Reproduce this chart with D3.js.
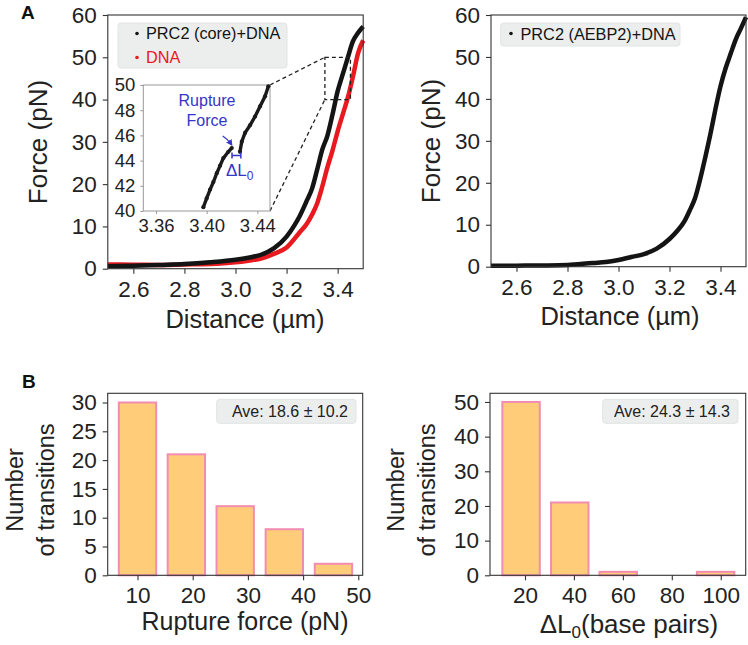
<!DOCTYPE html>
<html><head><meta charset="utf-8">
<script src="https://cdn.jsdelivr.net/npm/d3@7"></script>
<style>
body{margin:0;background:#fff;}
svg{display:block;font-family:"Liberation Sans",Arial,Helvetica,sans-serif;}
</style></head>
<body>
<svg id="chart" width="748" height="645"></svg>
<script>
// ---------- DATA ----------
const distCore   = [2.5,2.6,2.7,2.8,2.9,3.0,3.05,3.1,3.15,3.2,3.23,3.25,3.28,3.3,3.32,3.34,3.36,3.38,3.40,3.42,3.44,3.46,3.48,3.5];
const forceCore  = [0.6,0.7,0.9,1.1,1.5,2.1,2.6,3.3,4.8,7.6,10.2,12.3,16.2,19.0,23.5,28.2,31.5,36.5,42.0,46.0,50.0,53.8,55.8,57.3];
const distDNA    = [2.5,2.6,2.7,2.8,2.9,3.0,3.05,3.1,3.15,3.2,3.25,3.28,3.3,3.32,3.34,3.36,3.38,3.40,3.42,3.44,3.46,3.48,3.5];
const forceDNA   = [1.0,0.95,0.9,1.0,1.1,1.5,1.9,2.4,3.5,5.0,8.5,10.7,12.8,15.5,19.5,24.0,28.0,32.5,36.5,40.5,45.5,51.0,54.0];
const distAEBP2  = [2.5,2.6,2.7,2.8,2.9,2.95,3.0,3.05,3.1,3.15,3.2,3.23,3.26,3.28,3.3,3.32,3.34,3.36,3.38,3.40,3.42,3.44,3.46,3.48,3.5];
const forceAEBP2 = [0.2,0.25,0.3,0.4,0.9,1.1,1.6,2.3,3.0,4.3,6.6,8.5,11.0,13.5,16.3,20.8,26.0,31.5,37.5,43.0,47.3,50.8,54.2,56.8,59.5];
// inset (zoomed rupture event)
const insetDistA  = [3.3974,3.400,3.4027,3.4053,3.408,3.4106,3.4132,3.4171,3.4198];
const insetForceA = [40.3,41.0,41.7,42.3,43.0,43.6,44.2,44.7,45.0];
const insetDistB  = [3.4263,3.4277,3.4303,3.4342,3.4382,3.4421,3.4461,3.4487];
const insetForceB = [44.7,45.5,46.2,46.8,47.5,48.3,49.1,49.9];
const ruptureMark = [3.4198,45.0];
const deltaL0Mark = [3.4200,3.4270,44.4];

const distTicks   = [2.6,2.8,3.0,3.2,3.4];
const forceTicks  = [0,10,20,30,40,50,60];
const insetXTicks = [3.36,3.40,3.44];
const insetYTicks = [40,42,44,46,48,50];

const ruptureCenters = [10,18.85,27.7,36.6,45.5];
const ruptureCounts  = [30,21,12,8,2];
const ruptureTicksX  = [10,20,30,40,50];
const ruptureTicksY  = [0,5,10,15,20,25,30];
const dL0Centers = [18.4,38.3,58.1,78.0,97.9];
const dL0Counts  = [50,21,1,0,1];
const dL0TicksX  = [20,40,60,80,100];
const dL0TicksY  = [0,10,20,30,40,50];

const legendCore  = ["PRC2 (core)+DNA","DNA"];
const legendAEBP2 = ["PRC2 (AEBP2)+DNA"];
const aveRupture = "Ave: 18.6 \u00b1 10.2";
const aveDL0     = "Ave: 24.3 \u00b1 14.3";

// ---------- DRAW ----------
const svg = d3.select("#chart");
const TICKFS = 22.5, TITLEFS = 25.5, AXC = "#333";

function frame(g, x0, x1, y0, y1){
  g.append("rect").attr("x",x0).attr("y",y1).attr("width",x1-x0).attr("height",y0-y1)
   .attr("fill","none").attr("stroke",AXC).attr("stroke-width",1.1);
}
function axes(g, x, y, xt, yt, xfmt, yfmt, y0, x0){
  const ax = g.append("g").attr("transform",`translate(0,${y0})`)
    .call(d3.axisBottom(x).tickValues(xt).tickFormat(xfmt).tickSize(5).tickSizeOuter(0).tickPadding(7));
  const ay = g.append("g").attr("transform",`translate(${x0},0)`)
    .call(d3.axisLeft(y).tickValues(yt).tickFormat(yfmt).tickSize(5).tickSizeOuter(0).tickPadding(6));
  [ax,ay].forEach(a=>{
    a.select(".domain").remove();
    a.selectAll("line").attr("stroke",AXC).attr("stroke-width",1.1);
    a.selectAll("text").attr("font-size",TICKFS).attr("fill","#222").attr("font-family",null);
  });
}

// ---- Panel A left ----
(function(){
  const g = svg.append("g");
  const x = d3.scaleLinear().domain([2.5,3.5]).range([107.8,363.2]);
  const y = d3.scaleLinear().domain([0,60]).range([268.7,15]);
  const line = d3.line().x(d=>x(d[0])).y(d=>y(d[1])).curve(d3.curveMonotoneX);
  g.append("path").datum(d3.zip(distDNA,forceDNA)).attr("d",line)
    .attr("fill","none").attr("stroke","#e8191f").attr("stroke-width",4.5);
  g.append("path").datum(d3.zip(distCore,forceCore)).attr("d",line)
    .attr("fill","none").attr("stroke","#141414").attr("stroke-width",4.5);
  frame(g,107.8,363.2,268.7,15);
  axes(g,x,y,distTicks,forceTicks,d3.format(".1f"),d3.format("d"),268.7,107.8);
  // legend
  g.append("rect").attr("x",118).attr("y",23).attr("width",169).attr("height",45).attr("rx",3)
    .attr("fill","#eceeee").attr("stroke","#e2e4e4");
  const lc = ["#141414","#e8191f"];
  legendCore.forEach((t,i)=>{
    g.append("circle").attr("cx",137).attr("cy",33.5+i*24).attr("r",1.8).attr("fill",lc[i]);
    g.append("text").attr("x",146).attr("y",39+i*24).attr("font-size",16.3).attr("fill",lc[i]).text(t);
  });
  // zoom rectangle
  const zx0 = x(3.35), zx1 = x(3.45), zy0 = y(40), zy1 = y(50);
  g.append("rect").attr("x",zx0).attr("y",zy1).attr("width",zx1-zx0).attr("height",zy0-zy1)
    .attr("fill","none").attr("stroke","#222").attr("stroke-width",1.3).attr("stroke-dasharray","4,3");
  // inset
  const ix = d3.scaleLinear().domain([3.35,3.45]).range([143.3,270]);
  const iy = d3.scaleLinear().domain([40,50]).range([211,85]);
  g.append("line").attr("x1",270).attr("y1",85).attr("x2",zx0).attr("y2",zy1)
    .attr("stroke","#222").attr("stroke-width",1.3).attr("stroke-dasharray","4,3");
  g.append("line").attr("x1",270).attr("y1",211).attr("x2",zx0).attr("y2",zy0)
    .attr("stroke","#222").attr("stroke-width",1.3).attr("stroke-dasharray","4,3");
  g.append("rect").attr("x",143.3).attr("y",85).attr("width",126.7).attr("height",126)
    .attr("fill","#fff").attr("stroke","#999").attr("stroke-width",1);
  const il = d3.line().x(d=>ix(d[0])).y(d=>iy(d[1]));
  [d3.zip(insetDistA,insetForceA), d3.zip(insetDistB,insetForceB)].forEach(seg=>{
    g.append("path").datum(seg).attr("d",il).attr("fill","none").attr("stroke","#1a1a1a").attr("stroke-width",3.4);
    g.selectAll(null).data(seg).enter().append("circle")
      .attr("cx",d=>ix(d[0])).attr("cy",d=>iy(d[1])).attr("r",2.1).attr("fill","#1a1a1a");
  });
  const iax = g.append("g").attr("transform","translate(0,211)")
    .call(d3.axisBottom(ix).tickValues(insetXTicks).tickFormat(d3.format(".2f")).tickSize(3).tickSizeOuter(0).tickPadding(5));
  const iay = g.append("g").attr("transform","translate(143.3,0)")
    .call(d3.axisLeft(iy).tickValues(insetYTicks).tickFormat(d3.format("d")).tickSize(3).tickSizeOuter(0).tickPadding(5));
  [iax,iay].forEach(a=>{
    a.select(".domain").remove();
    a.selectAll("line").attr("stroke","#999");
    a.selectAll("text").attr("font-size",18.5).attr("fill","#222").attr("font-family",null);
  });
  // annotations
  const blue = "#3535c8";
  g.append("text").attr("x",207).attr("y",106).attr("text-anchor","middle").attr("font-size",16).attr("fill",blue).text("Rupture");
  g.append("text").attr("x",207).attr("y",126).attr("text-anchor","middle").attr("font-size",16).attr("fill",blue).text("Force");
  svg.append("defs").append("marker").attr("id","ah").attr("viewBox","0 0 10 10").attr("refX",8).attr("refY",5)
    .attr("markerWidth",5).attr("markerHeight",5).attr("orient","auto")
    .append("path").attr("d","M0,0L10,5L0,10z").attr("fill",blue);
  const rx = ix(ruptureMark[0]), ry = iy(ruptureMark[1]);
  g.append("path").attr("d",`M${rx-9},${ry-12}Q${rx-4},${ry-9} ${rx},${ry-3}`)
    .attr("fill","none").attr("stroke",blue).attr("stroke-width",1.3).attr("marker-end","url(#ah)");
  const dx0 = ix(deltaL0Mark[0]), dx1 = ix(deltaL0Mark[1]), dy = iy(deltaL0Mark[2]);
  g.append("path").attr("d",`M${dx0},${dy}H${dx1}M${dx0},${dy-3}V${dy+3}M${dx1},${dy-3}V${dy+3}`)
    .attr("stroke",blue).attr("stroke-width",1.5).attr("fill","none");
  const dt = g.append("text").attr("x",226).attr("y",176).attr("font-size",17).attr("fill",blue);
  dt.append("tspan").text("\u0394L");
  dt.append("tspan").attr("font-size",12).attr("dy",4).text("0");
  // titles
  g.append("text").attr("x",245).attr("y",328).attr("text-anchor","middle").attr("font-size",TITLEFS).attr("fill","#222").text("Distance (\u00b5m)");
  g.append("text").attr("transform","translate(47,142) rotate(-90)").attr("text-anchor","middle").attr("font-size",TITLEFS+0.5).attr("fill","#222").text("Force (pN)");
  svg.append("text").attr("x",21).attr("y",19).attr("font-size",19).attr("font-weight","bold").attr("fill","#111").text("A");
})();

// ---- Panel A right ----
(function(){
  const g = svg.append("g");
  const x = d3.scaleLinear().domain([2.5,3.5]).range([491,746]);
  const y = d3.scaleLinear().domain([0,60]).range([266.7,15]);
  const line = d3.line().x(d=>x(d[0])).y(d=>y(d[1])).curve(d3.curveMonotoneX);
  g.append("path").datum(d3.zip(distAEBP2,forceAEBP2)).attr("d",line)
    .attr("fill","none").attr("stroke","#141414").attr("stroke-width",4.5);
  frame(g,491,746,266.7,15);
  axes(g,x,y,distTicks,forceTicks,d3.format(".1f"),d3.format("d"),266.7,491);
  g.append("rect").attr("x",500.7).attr("y",23).attr("width",179.3).attr("height",23).attr("rx",3)
    .attr("fill","#eceeee").attr("stroke","#e2e4e4");
  legendAEBP2.forEach((t,i)=>{
    g.append("circle").attr("cx",511).attr("cy",33.5).attr("r",1.8).attr("fill","#141414");
    g.append("text").attr("x",520.5).attr("y",39.5).attr("font-size",16.3).attr("fill","#141414").text(t);
  });
  g.append("text").attr("x",620).attr("y",325).attr("text-anchor","middle").attr("font-size",TITLEFS).attr("fill","#222").text("Distance (\u00b5m)");
  g.append("text").attr("transform","translate(440,141) rotate(-90)").attr("text-anchor","middle").attr("font-size",TITLEFS+0.5).attr("fill","#222").text("Force (pN)");
})();

// ---- Histograms ----
function hist(opt){
  const g = svg.append("g");
  const x = d3.scaleLinear().domain(opt.xd).range([opt.x0,opt.x1]);
  const y = d3.scaleLinear().domain(opt.yd).range([575.3,393.3]);
  g.selectAll("rect.bar").data(d3.zip(opt.centers,opt.counts)).enter().append("rect").attr("class","bar")
    .attr("x",d=>x(d[0]-opt.bw/2)).attr("width",d=>x(d[0]+opt.bw/2)-x(d[0]-opt.bw/2))
    .attr("y",d=>y(d[1])).attr("height",d=>y(0)-y(d[1]))
    .attr("fill","#ffcc7a").attr("stroke","#f28cb0").attr("stroke-width",2);
  frame(g,opt.x0,opt.x1,575.3,393.3);
  axes(g,x,y,opt.xt,opt.yt,d3.format("d"),d3.format("d"),575.3,opt.x0);
  g.append("rect").attr("x",opt.ax0).attr("y",399.3).attr("width",opt.ax1-opt.ax0).attr("height",24).attr("rx",3)
    .attr("fill","#eceeee").attr("stroke","#e2e4e4");
  g.append("text").attr("x",opt.ax1-8).attr("y",417).attr("text-anchor","end").attr("font-size",16).attr("fill","#222").text(opt.ave);
  const t = g.append("text").attr("transform",`translate(${opt.ty},490) rotate(-90)`).attr("text-anchor","middle").attr("font-size",23.5).attr("fill","#222");
  t.append("tspan").attr("x",0).attr("dy",0).text("Number");
  t.append("tspan").attr("x",0).attr("dy",31).text("of transitions");
  return g;
}
const gb1 = hist({xd:[4.6,50.8],yd:[0,31.6],x0:107.7,x1:362.7,centers:ruptureCenters,counts:ruptureCounts,bw:6.77,
  xt:ruptureTicksX,yt:ruptureTicksY,ax0:216.7,ax1:356,ave:aveRupture,ty:22.5});
gb1.append("text").attr("x",245).attr("y",630).attr("text-anchor","middle").attr("font-size",TITLEFS-0.5).attr("fill","#222").text("Rupture force (pN)");
svg.append("text").attr("x",22).attr("y",388).attr("font-size",19).attr("font-weight","bold").attr("fill","#111").text("B");

const gb2 = hist({xd:[5.7,110.2],yd:[0,52.5],x0:490,x1:745.7,centers:dL0Centers,counts:dL0Counts,bw:15.3,
  xt:dL0TicksX,yt:dL0TicksY,ax0:602.7,ax1:738,ave:aveDL0,ty:404});
const xt2 = gb2.append("text").attr("x",629).attr("y",633).attr("text-anchor","middle").attr("font-size",TITLEFS+0.5).attr("fill","#222");
xt2.append("tspan").text("\u0394L");
xt2.append("tspan").attr("font-size",17).attr("dy",5).text("0");
xt2.append("tspan").attr("dy",-5).text("(base pairs)");
</script>
</body></html>
